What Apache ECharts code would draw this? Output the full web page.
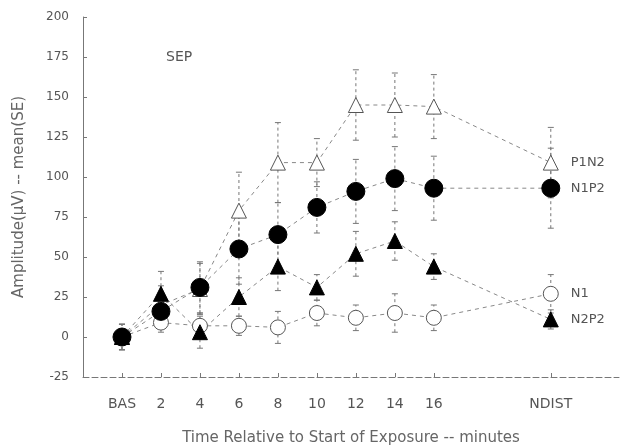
<!DOCTYPE html>
<html>
<head>
<meta charset="utf-8">
<script src="https://cdn.jsdelivr.net/npm/echarts@6/dist/echarts.min.js"></script>
<style>html,body{margin:0;padding:0;background:#fff}#c{width:627px;height:446px}</style>
</head>
<body>
<div id="c"></div>
<script>
// Time points (minutes); BAS = baseline, NDIST placed after the exposure block
const times = [0, 2, 4, 6, 8, 10, 12, 14, 16, 22];
const timeLabels = ['BAS', '2', '4', '6', '8', '10', '12', '14', '16', 'NDIST'];
const yTicks = [-25, 0, 25, 50, 75, 100, 125, 150, 175, 200];

// Mean amplitudes (µV)
const p1n2 = [0, 20, 30, 79, 109, 109, 145, 145, 144, 109];
const n1p2 = [0, 16, 31, 55, 64, 81, 91, 99, 93, 93];
const n1 = [0, 9, 7, 7, 6, 15, 12, 15, 12, 27];
const n2p2 = [0, 27, 3, 25, 44, 31, 52, 60, 44, 11];

// Standard errors
const p1n2SE = [8, 12, 16, 24, 25, 15, 22, 20, 20, 22];
const n1p2SE = [8, 8, 16, 22, 20, 16, 20, 20, 20, 25];
const n1SE = [5, 6, 8, 6, 10, 8, 8, 12, 8, 12];
const n2p2SE = [8, 14, 10, 12, 15, 8, 14, 12, 8, 6];

const labelFont = 'DejaVu Sans';

function pairs(vals) { return times.map((t, i) => [t, vals[i]]); }
function errData(vals, se) { return times.map((t, i) => [t, vals[i] - se[i], vals[i] + se[i]]); }

function errorSeries(vals, se) {
  return {
    type: 'custom',
    silent: true,
    z: 1,
    data: errData(vals, se),
    renderItem: function (params, api) {
      const x = api.value(0);
      const lo = api.coord([x, api.value(1)]);
      const hi = api.coord([x, api.value(2)]);
      const w = 3;
      const st = { stroke: '#777', lineWidth: 1, lineDash: [3, 3] };
      return {
        type: 'group',
        children: [
          { type: 'line', shape: { x1: lo[0], y1: lo[1], x2: hi[0], y2: hi[1] }, style: st },
          { type: 'line', shape: { x1: hi[0] - w, y1: hi[1], x2: hi[0] + w, y2: hi[1] }, style: { stroke: '#777', lineWidth: 1 } },
          { type: 'line', shape: { x1: lo[0] - w, y1: lo[1], x2: lo[0] + w, y2: lo[1] }, style: { stroke: '#777', lineWidth: 1 } }
        ]
      };
    }
  };
}

function meanSeries(name, vals, symbol, filled, size) {
  return {
    name: name,
    type: 'line',
    z: 3,
    data: pairs(vals),
    symbol: symbol,
    symbolSize: size,
    lineStyle: { color: '#888', width: 1, type: [4, 4] },
    itemStyle: filled
      ? { color: '#000', borderColor: '#000', borderWidth: 1 }
      : { color: '#fff', borderColor: '#555', borderWidth: 1 },
    endLabel: {
      show: true,
      formatter: name,
      distance: 20,
      fontFamily: labelFont,
      fontSize: 13,
      color: '#555'
    },
    animation: false
  };
}

const chart = echarts.init(document.getElementById('c'));
chart.setOption({
  animation: false,
  grid: { left: 83, top: 17, right: 8, bottom: 69, outerBoundsMode: 'none', containLabel: false },
  xAxis: {
    type: 'value',
    min: -2,
    max: 25.5,
    splitLine: { show: false },
    axisLine: { onZero: false, lineStyle: { color: '#777', type: [6, 3] } },
    axisTick: { show: true, customValues: times, inside: true, length: 4, lineStyle: { color: '#777' } },
    axisLabel: {
      customValues: times,
      formatter: v => timeLabels[times.indexOf(v)],
      fontFamily: labelFont,
      fontSize: 14,
      color: '#555',
      margin: 20
    },
    name: 'Time Relative to Start of Exposure -- minutes',
    nameLocation: 'middle',
    nameGap: 54,
    nameTextStyle: { fontFamily: labelFont, fontSize: 15, color: '#666' }
  },
  yAxis: {
    type: 'value',
    min: -25,
    max: 200,
    interval: 25,
    splitLine: { show: false },
    axisLine: { show: true, onZero: false, lineStyle: { color: '#777' } },
    axisTick: { show: true, inside: true, length: 4, lineStyle: { color: '#777' } },
    axisLabel: { fontFamily: labelFont, fontSize: 12, color: '#555', margin: 14 },
    name: 'Amplitude(µV) -- mean(SE)',
    nameLocation: 'middle',
    nameGap: 56,
    nameTextStyle: { fontFamily: labelFont, fontSize: 15, color: '#666' }
  },
  graphic: [
    { type: 'text', left: 166, top: 50, style: { text: 'SEP', fontFamily: labelFont, fontSize: 14, fill: '#555' } }
  ],
  series: [
    errorSeries(p1n2, p1n2SE),
    errorSeries(n1p2, n1p2SE),
    errorSeries(n1, n1SE),
    errorSeries(n2p2, n2p2SE),
    meanSeries('N1', n1, 'circle', false, 15),
    meanSeries('P1N2', p1n2, 'triangle', false, 15),
    meanSeries('N2P2', n2p2, 'triangle', true, 15),
    meanSeries('N1P2', n1p2, 'circle', true, 18)
  ]
});
</script>
</body>
</html>
